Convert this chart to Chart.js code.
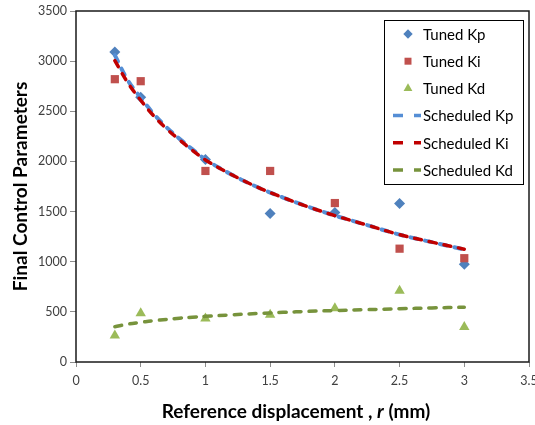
<!DOCTYPE html>
<html>
<head>
<meta charset="utf-8">
<script src="https://cdn.jsdelivr.net/npm/chart.js@4/dist/chart.umd.min.js"></script>
<style>
  html, body { margin: 0; padding: 0; background: #fff; overflow: hidden; }
  #wrap { width: 545px; height: 425px; }
</style>
</head>
<body>
<div id="wrap"><canvas id="gainChart" width="545" height="425"></canvas></div>
<script>
// tuned gains at each reference displacement
const rTuned = [0.3, 0.5, 1, 1.5, 2, 2.5, 3];
const tunedKp = [3090, 2640, 2020, 1480, 1490, 1580, 975];
const tunedKi = [2820, 2800, 1905, 1905, 1585, 1130, 1035];
const tunedKd = [265, 485, 435, 470, 535, 710, 350];

// gain schedule curves
const rSched = [0.3, 0.4, 0.5, 0.6, 0.7, 0.8, 0.9, 1.0, 1.2, 1.4, 1.6, 1.8, 2.0, 2.25, 2.5, 2.75, 3.0];
const schedKp = [3060, 2810, 2635, 2475, 2340, 2225, 2120, 2020, 1870, 1745, 1640, 1545, 1460, 1365, 1270, 1195, 1122];
const schedKi = [3005, 2785, 2610, 2455, 2325, 2215, 2110, 2015, 1870, 1745, 1640, 1545, 1460, 1365, 1270, 1195, 1125];
const schedKd = [352, 378, 395, 412, 425, 437, 447, 455, 470, 483, 495, 505, 513, 522, 531, 539, 546];

const xTicks = [0, 0.5, 1, 1.5, 2, 2.5, 3, 3.5];
const yTicks = [0, 500, 1000, 1500, 2000, 2500, 3000, 3500];

const FONT = 'Lato, "Open Sans", sans-serif';

function pts(xs, ys) {
  return xs.map((x, i) => ({ x: x, y: ys[i] }));
}

function marker(label, data, style, color, radius, order) {
  return {
    label: label, data: data, type: 'scatter', order: order,
    pointStyle: style, pointRadius: radius, pointHoverRadius: radius,
    backgroundColor: color, borderColor: color, borderWidth: 0, showLine: false
  };
}

function curve(label, data, color, width, order) {
  return {
    label: label, data: data, type: 'line', order: order,
    borderColor: color, backgroundColor: color, borderWidth: width,
    borderDash: [7, 8], borderCapStyle: 'round',
    pointRadius: 0, tension: 0.4, fill: false
  };
}

const datasets = [
  marker('Tuned Kp', pts(rTuned, tunedKp), 'rectRot', '#4F81BD', 5.5, 5),
  marker('Tuned Ki', pts(rTuned, tunedKi), 'rect', '#C0504D', 5.8, 4),
  marker('Tuned Kd', pts(rTuned, tunedKd), 'triangle', '#9BBB59', 6, 3),
  curve('Scheduled Kp', pts(rSched, schedKp), '#558ED5', 4, 2),
  curve('Scheduled Ki', pts(rSched, schedKi), '#C00000', 3.5, 1),
  curve('Scheduled Kd', pts(rSched, schedKd), '#77933C', 3.5, 0)
];

// frame, axis titles and the boxed legend
const decor = {
  id: 'decor',
  afterDraw(chart) {
    const ctx = chart.ctx;
    const a = chart.chartArea;
    ctx.save();
    ctx.strokeStyle = '#1a1a1a';
    ctx.lineWidth = 1.5;
    ctx.strokeRect(a.left, a.top, a.right - a.left, a.bottom - a.top);

    // y title
    ctx.fillStyle = '#000';
    ctx.font = 'bold 19px ' + FONT;
    ctx.textAlign = 'center';
    ctx.textBaseline = 'middle';
    ctx.translate(21, (a.top + a.bottom) / 2);
    ctx.rotate(-Math.PI / 2);
    ctx.fillText('Final Control Parameters', 0, 0);
    ctx.restore();

    // x title with italic r
    ctx.save();
    ctx.fillStyle = '#000';
    ctx.textBaseline = 'middle';
    ctx.textAlign = 'left';
    const parts = [
      ['Reference displacement , ', 'bold 19px ' + FONT],
      ['r', 'italic bold 19px ' + FONT],
      [' (mm)', 'bold 19px ' + FONT]
    ];
    let total = 0;
    parts.forEach(p => { ctx.font = p[1]; total += ctx.measureText(p[0]).width; });
    let x = 296 - total / 2;
    parts.forEach(p => { ctx.font = p[1]; ctx.fillText(p[0], x, 412); x += ctx.measureText(p[0]).width; });
    ctx.restore();

    // legend box
    ctx.save();
    ctx.fillStyle = '#fff';
    ctx.fillRect(384, 20, 139, 164);
    ctx.strokeStyle = '#000';
    ctx.lineWidth = 1;
    ctx.strokeRect(384.5, 20.5, 139, 164);
    ctx.font = '15px ' + FONT;
    ctx.textBaseline = 'middle';
    ctx.textAlign = 'left';
    chart.data.datasets.forEach((ds, i) => {
      const y = 34 + i * 27.2;
      if (ds.type === 'scatter') {
        ctx.fillStyle = ds.backgroundColor;
        ctx.strokeStyle = ds.borderColor;
        Chart.helpers.drawPoint(ctx, { pointStyle: ds.pointStyle, radius: ds.pointRadius * 0.85, borderWidth: 0, rotation: 0 }, 408, y);
      } else {
        ctx.strokeStyle = ds.borderColor;
        ctx.lineWidth = 3.5;
        ctx.lineCap = 'butt';
        ctx.setLineDash([]);
        ctx.beginPath();
        ctx.moveTo(393, y); ctx.lineTo(403, y);
        ctx.moveTo(414, y); ctx.lineTo(421, y);
        ctx.stroke();
      }
      ctx.fillStyle = '#000';
      ctx.fillText(ds.label, 423, y + 1);
    });
    ctx.restore();
  }
};

new Chart(document.getElementById('gainChart'), {
  data: { datasets: datasets },
  options: {
    responsive: false,
    animation: false,
    layout: { padding: { top: 11, right: 16, left: 0, bottom: 0 } },
    plugins: { legend: { display: false }, tooltip: { enabled: false } },
    scales: {
      x: {
        type: 'linear', min: 0, max: 3.5,
        afterFit(s) { s.height = 63; },
        afterBuildTicks(s) { s.ticks = xTicks.map(v => ({ value: v })); },
        border: { display: false },
        grid: { drawOnChartArea: false, drawTicks: true, tickLength: 5, color: '#8c8c8c' },
        ticks: { color: '#404040', padding: 6, maxRotation: 0, font: { family: FONT, size: 12.5 },
                 callback: v => String(v) }
      },
      y: {
        type: 'linear', min: 0, max: 3500,
        afterFit(s) { s.width = 76; },
        afterBuildTicks(s) { s.ticks = yTicks.map(v => ({ value: v })); },
        border: { display: false },
        grid: { drawOnChartArea: false, drawTicks: true, tickLength: 6, color: '#8c8c8c' },
        ticks: { color: '#404040', padding: 3, font: { family: FONT, size: 12.5 },
                 callback: v => String(v) }
      }
    }
  },
  plugins: [decor]
});
</script>
</body>
</html>
